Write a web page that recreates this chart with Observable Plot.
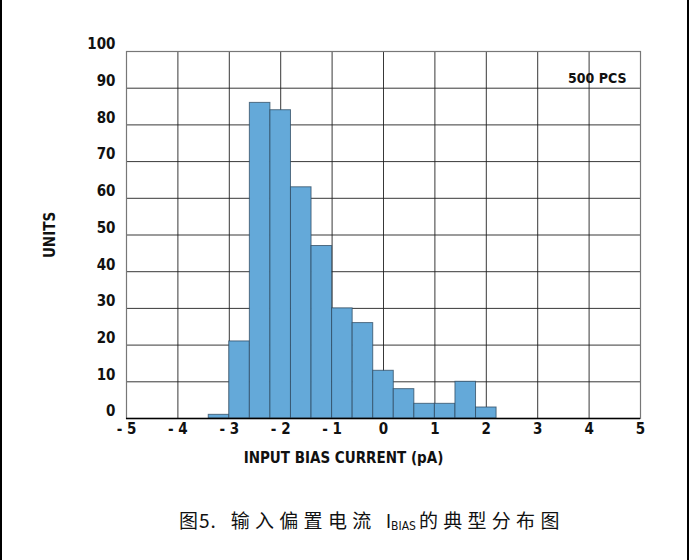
<!DOCTYPE html>
<html>
<head>
<meta charset="utf-8">
<script src="https://cdn.jsdelivr.net/npm/d3@7"></script>
<script src="https://cdn.jsdelivr.net/npm/@observablehq/plot@0.6"></script>
<style>
  html, body { margin: 0; padding: 0; background: #fff; }
  #wrap { position: relative; width: 691px; height: 560px; overflow: hidden; background: #fff; }
  #lineL { position: absolute; left: 0; top: 0; width: 2px; height: 560px; background: #000; }
  #lineR { position: absolute; left: 687px; top: 0; width: 2px; height: 560px; background: #000; }
  #chart { position: absolute; left: 0; top: 0; }
  #caption { position: absolute; left: 179px; top: 506px; white-space: nowrap;
    font-family: "Noto Sans CJK SC", "Noto Sans", sans-serif; font-weight: 400; font-size: 19px; color: #111; letter-spacing: 5.3px; }
  #caption .n5 { letter-spacing: 1px; }
  #caption sub { font-size: 12px; vertical-align: -2px; letter-spacing: 0; font-family: "DejaVu Sans Condensed", "Liberation Sans", sans-serif; margin-right: 3px; }
  #caption .ib { font-family: "DejaVu Sans Condensed", "Liberation Sans", sans-serif; letter-spacing: 0; }
</style>
</head>
<body>
<div id="wrap">
  <div id="chart"></div>
  <div id="lineL"></div>
  <div id="lineR"></div>
  <div id="caption"><span class="n5">图5</span>. 输入偏置电流 <span class="ib">I</span><sub>BIAS</sub>的典型分布图</div>
</div>
<script>
// Histogram bins (pA), bin width 0.4 pA
const binLow = [-3.4, -3.0, -2.6, -2.2, -1.8, -1.4, -1.0, -0.6, -0.2, 0.2, 0.6, 1.0, 1.4, 1.8];
const binHigh = [-3.0, -2.6, -2.2, -1.8, -1.4, -1.0, -0.6, -0.2, 0.2, 0.6, 1.0, 1.4, 1.8, 2.2];
const counts = [1, 21, 86, 84, 63, 47, 30, 26, 13, 8, 4, 4, 10, 3];
const xTicks = [-5, -4, -3, -2, -1, 0, 1, 2, 3, 4, 5];
const yTicks = [0, 10, 20, 30, 40, 50, 60, 70, 80, 90, 100];
const xLabel = "INPUT BIAS CURRENT (pA)";
const yLabel = "UNITS";
const annotation = "500 PCS";

const bins = binLow.map((lo, i) => ({lo, hi: binHigh[i], n: counts[i]}));
const font = "'DejaVu Sans Condensed', 'Liberation Sans', Arial, sans-serif";

const chart = Plot.plot({
  width: 691,
  height: 492,
  marginLeft: 126,
  marginRight: 51,
  marginTop: 51,
  marginBottom: 74,
  style: {fontFamily: font, fontSize: "15px", fontWeight: "bold", color: "#111", background: "transparent"},
  x: {domain: [-5, 5]},
  y: {domain: [0, 100]},
  marks: [
    Plot.gridX(xTicks, {stroke: "#222", strokeOpacity: 0.9, strokeWidth: 1}),
    Plot.gridY(yTicks, {stroke: "#222", strokeOpacity: 0.9, strokeWidth: 1}),
    Plot.rectY(bins, {x1: "lo", x2: "hi", y: "n", fill: "#64a9d9", stroke: "#2e4a60", strokeOpacity: 0.75, strokeWidth: 1, insetLeft: 0, insetRight: 0}),
    Plot.frame({stroke: "#777", strokeWidth: 1.2}),
    Plot.ruleY([0], {stroke: "#000", strokeWidth: 1.5}),
    Plot.axisX(xTicks, {
      tickSize: 0, tickPadding: 5,
      tickFormat: d => d < 0 ? "- " + Math.abs(d) : String(d),
      fontSize: 15, label: null
    }),
    Plot.axisY(yTicks, {
      tickSize: 0, tickPadding: 11, dy: -7,
      fontSize: 15,
      label: yLabel, labelAnchor: "center", labelArrow: "none", labelOffset: 82
    }),
    Plot.text([xLabel], {frameAnchor: "bottom", dx: -40, dy: 44, fontSize: 15, fontWeight: "bold", fill: "#111"}),
    Plot.text([annotation], {frameAnchor: "top-right", dx: -14, dy: 22, fontSize: 14, fontWeight: "bold", fill: "#111"})
  ]
});
document.getElementById("chart").appendChild(chart);
</script>
</body>
</html>
